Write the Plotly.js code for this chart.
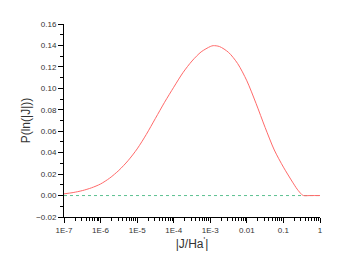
<!DOCTYPE html>
<html>
<head>
<meta charset="utf-8">
<script src="https://cdn.plot.ly/plotly-3.0.1.min.js"></script>
<style>html,body{margin:0;padding:0;background:#fff;}#chart{width:348px;height:273px;}</style>
</head>
<body>
<div id="chart"></div>
<script>
// log10 of |J/Ha*| and probability P(ln|J|)
const logJ = [-7, -6.75, -6.5, -6.25, -6, -5.75, -5.5, -5.25, -5, -4.75, -4.5, -4.25, -4, -3.75, -3.5, -3.25, -3, -2.92, -2.75, -2.5, -2.25, -2, -1.75, -1.5, -1.25, -1, -0.75, -0.625, -0.5, -0.45, -0.25, 0];
const pValues = [0.0016, 0.0028, 0.0046, 0.0072, 0.0108, 0.0163, 0.0235, 0.0325, 0.0435, 0.057, 0.072, 0.087, 0.101, 0.1145, 0.1255, 0.134, 0.139, 0.1398, 0.139, 0.1335, 0.123, 0.107, 0.086, 0.0635, 0.0425, 0.0265, 0.0125, 0.006, 0.001, 0.0, 0.0, 0.0];
const jValues = logJ.map(v => Math.pow(10, v));
const baseX = [1e-7, 1];
const baseY = [0, 0];
const xTickVals = [1e-7, 1e-6, 1e-5, 1e-4, 1e-3, 1e-2, 1e-1, 1];
const xTickText = ["1E-7", "1E-6", "1E-5", "1E-4", "1E-3", "0.01", "0.1", "1"];

const minorVals = [];
for (let e = -7; e < 0; e++) for (let k = 2; k <= 9; k++) minorVals.push(k * Math.pow(10, e));

const font = {family: '"Liberation Sans", Arial, sans-serif', color: '#333'};
const traces = [
  {x: baseX, y: baseY, mode: 'lines', line: {color: '#5cc090', width: 1, dash: 'dot'}, hoverinfo: 'skip'},
  {x: jValues, y: pValues, mode: 'lines', line: {color: '#ff6a6a', width: 1, shape: 'spline', smoothing: 0.8}}
];
const layout = {
  width: 348, height: 273,
  margin: {l: 64, r: 28, t: 24, b: 56},
  paper_bgcolor: '#fff', plot_bgcolor: '#fff',
  showlegend: false,
  font: Object.assign({size: 8}, font),
  xaxis: {
    type: 'log', range: [-7, 0],
    tickmode: 'array', tickvals: xTickVals, ticktext: xTickText,
    ticks: 'outside', ticklen: 5, tickcolor: '#000', tickwidth: 1,
    showline: true, linecolor: '#000', linewidth: 1,
    showgrid: false, zeroline: false,
    tickfont: Object.assign({size: 8}, font),
    minor: {tickmode: 'array', tickvals: minorVals, ticks: 'outside', ticklen: 3, tickcolor: '#000', showgrid: false},
    title: {text: "|J/Ha<sup>'</sup>|", font: Object.assign({size: 12}, font), standoff: 5}
  },
  yaxis: {
    range: [-0.02, 0.16], dtick: 0.02, tick0: 0, tickformat: '.2f',
    ticks: 'outside', ticklen: 5, tickcolor: '#000', tickwidth: 1,
    showline: true, linecolor: '#000', linewidth: 1,
    showgrid: false, zeroline: false,
    tickfont: Object.assign({size: 8}, font),
    minor: {dtick: 0.01, tick0: 0, ticks: 'outside', ticklen: 3, tickcolor: '#000', showgrid: false},
    title: {text: 'P(ln(|J|))', font: Object.assign({size: 12}, font), standoff: 2}
  }
};
Plotly.newPlot('chart', traces, layout, {displayModeBar: false, staticPlot: true});
</script>
</body>
</html>
